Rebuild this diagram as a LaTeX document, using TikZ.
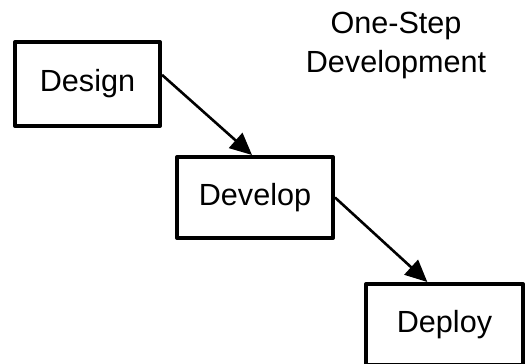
\documentclass[tikz,border=0pt]{standalone}
\usepackage{fontspec}
\setmainfont{Liberation Sans}
\usetikzlibrary{arrows.meta,positioning}

\begin{document}
\begin{tikzpicture}[
            x = 0.5pt, y = -0.5pt,
            font = \fontsize{15.3}{19.35}\selectfont,
            blok/.style = {
                draw, rectangle,
                line width = 2pt,
                line join = round,
                minimum height = 40.5pt,
                on grid,
            },
            pijl/.style = {
                -{Triangle[length = 11pt, width = 10pt]},
                line width = 1.3pt,
            },
        ]

        \useasboundingbox (0, 0) rectangle (526, 364);

        % Titel
        \node[align = center, anchor = base] (title) at (396, 72) {One-Step\\Development};

        % Blokken
        \node[blok, minimum width = 72.5pt, minimum height = 42pt] (design) at (87.5, 84) {Design};
        \node[blok, minimum width = 78pt, below right = 56.75pt and 83.75pt of design] (develop) {Develop};
        \node[blok, minimum width = 78.5pt, below right = 63.5pt and 94.75pt of develop] (deploy) {Deploy};

        % Pijlen
        \draw[pijl] (design.7) -- (develop.94);
        \draw[pijl] (develop.east) -- (deploy.112);
\end{tikzpicture}
\end{document}
